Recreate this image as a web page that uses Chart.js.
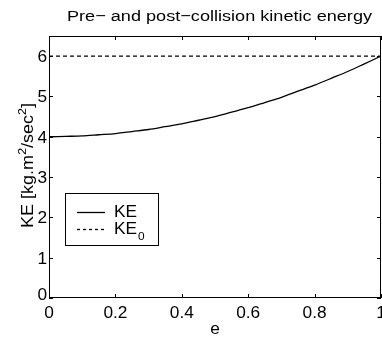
<!DOCTYPE html>
<html>
<head>
<meta charset="utf-8">
<script src="https://cdn.jsdelivr.net/npm/chart.js@4/dist/chart.umd.min.js"></script>
<style>
  html, body { margin: 0; padding: 0; background: #fff; }
  #wrap { width: 382px; height: 337px; }
</style>
</head>
<body>
<div id="wrap"><canvas id="c" width="382" height="337"></canvas></div>
<script>
// Coefficient of restitution values
const eValues = [0, 0.05, 0.1, 0.15, 0.2, 0.25, 0.3, 0.35, 0.4, 0.45, 0.5,
                 0.55, 0.6, 0.65, 0.7, 0.75, 0.8, 0.85, 0.9, 0.95, 1];
// Post-collision kinetic energy
const keValues = [4.00, 4.01, 4.02, 4.05, 4.08, 4.13, 4.18, 4.25, 4.32, 4.41, 4.50,
                  4.61, 4.72, 4.85, 4.98, 5.13, 5.28, 5.45, 5.62, 5.81, 6.00];
// Pre-collision kinetic energy (constant)
const ke0E = [0, 1];
const ke0Values = [6, 6];

const xTicks = [0, 0.2, 0.4, 0.6, 0.8, 1];
const xTickLabels = ['0', '0.2', '0.4', '0.6', '0.8', '1'];
const yTicks = [0, 1, 2, 3, 4, 5, 6];
const yTickLabels = ['0', '1', '2', '3', '4', '5', '6'];

const FONT = '"Liberation Sans", Arial, Helvetica, sans-serif';

// Draw a run of [text, size, rise] parts, stretched horizontally by sx
function drawRuns(ctx, parts, cx, baseY, sx, align) {
  let total = 0;
  parts.forEach(p => { ctx.font = p[1] + 'px ' + FONT; total += ctx.measureText(p[0]).width; });
  ctx.save();
  ctx.translate(cx, baseY);
  ctx.scale(sx, 1);
  ctx.textAlign = 'left';
  ctx.textBaseline = 'alphabetic';
  let x = align === 'center' ? -total / 2 : (align === 'right' ? -total : 0);
  parts.forEach(p => {
    ctx.font = p[1] + 'px ' + FONT;
    ctx.fillText(p[0], x, p[2]);
    x += ctx.measureText(p[0]).width;
  });
  ctx.restore();
  return total * sx;
}

// Box, inward ticks, tick labels, title, axis labels and legend
const decorations = {
  id: 'decorations',
  afterDraw(chart) {
    const ctx = chart.ctx;
    const a = chart.chartArea;
    const xs = chart.scales.x, ys = chart.scales.y;
    ctx.save();
    ctx.strokeStyle = '#000';
    ctx.lineWidth = 1;
    ctx.strokeRect(Math.round(a.left) + 0.5, Math.round(a.top) + 0.5,
                   Math.round(a.right - a.left) - 1, Math.round(a.bottom - a.top) - 1);
    const tl = 4;
    ctx.beginPath();
    xTicks.forEach(v => {
      const px = Math.round(xs.getPixelForValue(v)) + 0.5;
      ctx.moveTo(px, a.bottom); ctx.lineTo(px, a.bottom - tl);
      ctx.moveTo(px, a.top); ctx.lineTo(px, a.top + tl);
    });
    yTicks.forEach(v => {
      const py = Math.round(ys.getPixelForValue(v)) + 0.5;
      ctx.moveTo(a.left, py); ctx.lineTo(a.left + tl, py);
      ctx.moveTo(a.right, py); ctx.lineTo(a.right - tl, py);
    });
    ctx.stroke();

    ctx.fillStyle = '#000';
    const tickSize = 16, tickSx = 1.08;
    xTicks.forEach((v, i) => {
      drawRuns(ctx, [[xTickLabels[i], tickSize, 0]], xs.getPixelForValue(v), a.bottom + 20, tickSx, 'center');
    });
    yTicks.forEach((v, i) => {
      drawRuns(ctx, [[yTickLabels[i], tickSize, 0]], a.left - 2,
               ys.getPixelForValue(v) + 6 - (v === 0 ? 4 : 0), tickSx, 'right');
    });

    // x label
    drawRuns(ctx, [['e', tickSize, 0]], (a.left + a.right) / 2, a.bottom + 36, tickSx, 'center');

    // title
    ctx.font = '15.5px ' + FONT;
    const title = 'Pre\u2212 and post\u2212collision kinetic energy';
    const tw = ctx.measureText(title).width;
    drawRuns(ctx, [[title, 15.5, 0]], 219.5, 21, 305 / tw, 'center');

    // y label with superscripts
    const yParts = [
      ['KE [kg.m', 16, 0], ['2', 11, -7], ['/sec', 16, 0], ['2', 11, -7], [']', 16, 0]
    ];
    let ylw = 0;
    yParts.forEach(p => { ctx.font = p[1] + 'px ' + FONT; ylw += ctx.measureText(p[0]).width; });
    ctx.save();
    ctx.translate(33, 165.5);
    ctx.rotate(-Math.PI / 2);
    drawRuns(ctx, yParts, 0, 0, 125 / ylw, 'center');
    ctx.restore();

    // legend
    const lx = 65, ly = 193, lw = 93, lh = 52;
    ctx.fillStyle = '#fff';
    ctx.fillRect(lx, ly, lw, lh);
    ctx.strokeStyle = '#000';
    ctx.lineWidth = 1;
    ctx.strokeRect(lx + 0.5, ly + 0.5, lw, lh);
    const rows = [
      { y: 212, dash: [] },
      { y: 229, dash: [3, 3] }
    ];
    ctx.lineWidth = 1.3;
    rows.forEach(r => {
      ctx.setLineDash(r.dash);
      ctx.beginPath();
      ctx.moveTo(77, r.y + 0.5); ctx.lineTo(105, r.y + 0.5);
      ctx.stroke();
    });
    ctx.setLineDash([]);
    ctx.fillStyle = '#000';
    const kw = drawRuns(ctx, [['KE', 16, 0]], 114, 217, tickSx, 'left');
    drawRuns(ctx, [['KE', 16, 0]], 114, 234, tickSx, 'left');
    drawRuns(ctx, [['0', 11, 0]], 114 + kw + 1, 240, tickSx, 'left');
    ctx.restore();
  }
};

const zeroFit = s => { s.width = s.isHorizontal() ? s.width : 0; s.height = s.isHorizontal() ? 0 : s.height; };

new Chart(document.getElementById('c'), {
  type: 'scatter',
  data: {
    datasets: [
      {
        label: 'KE',
        data: eValues.map((e, i) => ({ x: e, y: keValues[i] })),
        showLine: true,
        borderColor: '#000',
        borderWidth: 1.3,
        pointRadius: 0,
        tension: 0.3,
        fill: false
      },
      {
        label: 'KE0',
        data: ke0E.map((e, i) => ({ x: e, y: ke0Values[i] })),
        showLine: true,
        borderColor: '#000',
        borderWidth: 1.3,
        borderDash: [4, 3],
        pointRadius: 0,
        fill: false
      }
    ]
  },
  options: {
    responsive: false,
    animation: false,
    devicePixelRatio: 1,
    layout: { padding: { left: 49, right: 1, top: 36, bottom: 39 } },
    plugins: { legend: { display: false }, title: { display: false }, tooltip: { enabled: false } },
    scales: {
      x: {
        type: 'linear', min: 0, max: 1,
        ticks: { display: false },
        grid: { display: false },
        border: { display: false },
        afterFit: zeroFit
      },
      y: {
        type: 'linear', min: 0, max: 6.5,
        ticks: { display: false },
        grid: { display: false },
        border: { display: false },
        afterFit: zeroFit
      }
    }
  },
  plugins: [decorations]
});
</script>
</body>
</html>
